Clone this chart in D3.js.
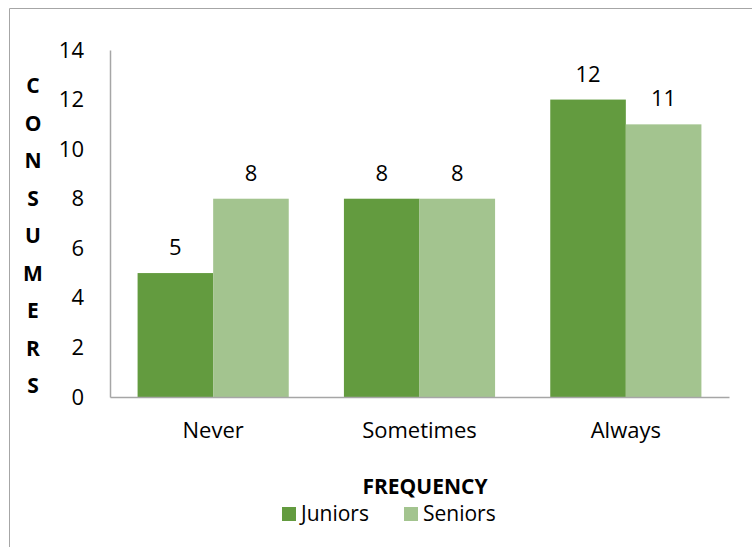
<!DOCTYPE html>
<html><head><meta charset="utf-8">
<script src="https://cdn.jsdelivr.net/npm/d3@7"></script>
<style>body{margin:0;background:#fff}svg{display:block}text{font-family:"Open Sans","Noto Sans",sans-serif}</style>
</head><body>
<script>
const categories = ["Never", "Sometimes", "Always"];
const seriesNames = ["Juniors", "Seniors"];
const juniors = [5, 8, 12];
const seniors = [8, 8, 11];
const yTicks = [0, 2, 4, 6, 8, 10, 12, 14];
const yTitle = "CONSUMERS";
const xTitle = "FREQUENCY";
const colors = ["#639B3F", "#A3C48F"];

(function () {
const W = 752, H = 547;
const FS = 22;
const svg = d3.select("body").append("svg").attr("width", W).attr("height", H);

// outer frame
svg.append("path").attr("d", `M${W+5},8.5 H9.5 V${H+5}`).attr("fill", "none").attr("stroke", "#a6a6a6").attr("stroke-width", 1);

const mLeft = 110, mRight = 729, mTop = 50, mBottom = 397;
const x0 = d3.scaleBand().domain(categories).range([mLeft, mRight]).paddingInner(0).paddingOuter(0);
const x1 = d3.scaleBand().domain(seriesNames).range([0, x0.bandwidth()]).paddingInner(0).paddingOuter(0.365);
const y = d3.scaleLinear().domain([0, 14]).range([mBottom, mTop]);

const data = categories.map((c, i) => ({cat: c, vals: [juniors[i], seniors[i]]}));

const g = svg.append("g");
data.forEach(d => {
  d.vals.forEach((v, j) => {
    const bx = x0(d.cat) + x1(seriesNames[j]);
    g.append("rect").attr("x", bx).attr("y", y(v)).attr("width", x1.bandwidth()).attr("height", y(0) - y(v)).attr("fill", colors[j]);
    g.append("text").attr("x", bx + x1.bandwidth() / 2).attr("y", y(v) - 18).attr("text-anchor", "middle")
      .attr("font-size", FS).attr("fill", "#000").text(v);
  });
});

// axes
const yAxis = d3.axisLeft(y).tickValues(yTicks).tickSize(0).tickPadding(26);
const ya = svg.append("g").attr("transform", `translate(${mLeft},0)`).call(yAxis);
ya.select(".domain").attr("stroke", "#a6a6a6").attr("stroke-width", 1.5);
ya.selectAll("text").attr("font-size", FS).attr("fill", "#000").attr("font-family", '"Open Sans",sans-serif');

const xAxis = d3.axisBottom(x0).tickSize(0).tickPadding(25);
const xa = svg.append("g").attr("transform", `translate(0,${mBottom})`).call(xAxis);
xa.select(".domain").attr("stroke", "#a6a6a6").attr("stroke-width", 1.5);
xa.selectAll("text").attr("font-size", FS).attr("fill", "#000").attr("font-family", '"Open Sans",sans-serif');

// y title stacked letters
const letters = yTitle.split("");
svg.append("g").selectAll("text").data(letters).join("text")
  .attr("x", 33).attr("y", (d, i) => 93 + i * 37.5).attr("text-anchor", "middle")
  .attr("font-size", 21).attr("font-weight", "bold").attr("fill", "#000").text(d => d);

// x title
svg.append("text").attr("x", 425).attr("y", 494).attr("text-anchor", "middle")
  .attr("font-size", 21).attr("font-weight", "bold").attr("fill", "#000").text(xTitle);

// legend
const legendX = [282, 404];
seriesNames.forEach((s, j) => {
  svg.append("rect").attr("x", legendX[j]).attr("y", 507).attr("width", 14).attr("height", 14).attr("fill", colors[j]);
  svg.append("text").attr("x", legendX[j] + 19).attr("y", 521).attr("font-size", 21).attr("fill", "#000").text(s);
});
})();
</script>
</body></html>
